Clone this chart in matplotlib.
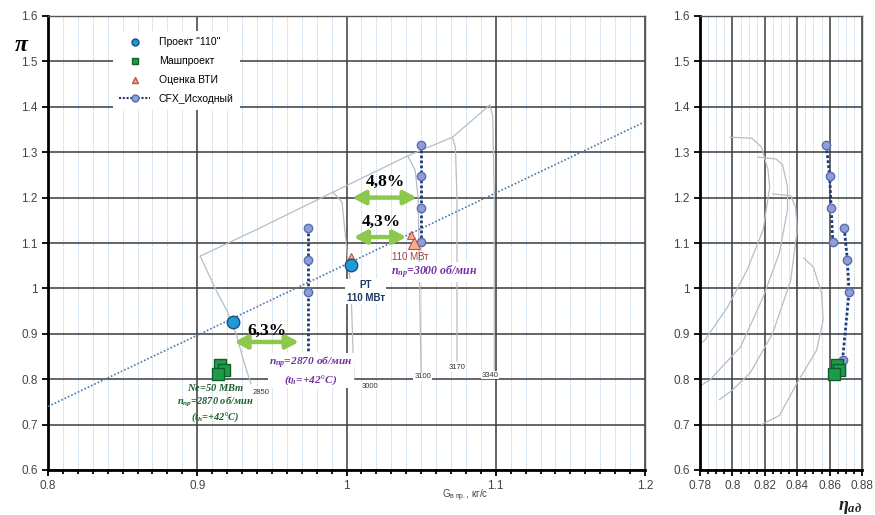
import numpy as np
import matplotlib.pyplot as plt
from matplotlib.lines import Line2D
from matplotlib.patches import FancyArrowPatch
from matplotlib.ticker import MultipleLocator

plt.rcParams['font.family'] = ['Liberation Sans', 'DejaVu Sans']
plt.rcParams['mathtext.fontset'] = 'custom'
plt.rcParams['mathtext.it'] = 'Liberation Serif:italic:bold'
plt.rcParams['mathtext.rm'] = 'Liberation Serif:bold'
plt.rcParams['mathtext.sf'] = 'Liberation Sans'

# ---------------------------------
# data
# ---------------------------------
# Проект "110"
proj_G = [0.924, 1.003]
proj_pi = [0.926, 1.052]

# Машпроект
mash_G = [0.915, 0.918, 0.914]
mash_pi = [0.831, 0.820, 0.811]
mash_eta = [0.8646, 0.866, 0.863]

# Оценка ВТИ
vti_G = [1.045, 1.043, 1.003]
vti_pi = [1.100, 1.118, 1.071]
vti_size = [9, 6, 4]

# CFX_Исходный, two speed lines
cfx1_G = [1.050, 1.050, 1.050, 1.050]
cfx1_pi = [1.315, 1.248, 1.177, 1.102]
cfx1_eta = [0.858, 0.860, 0.861, 0.862]
cfx2_G = [0.974, 0.974, 0.974, 0.974]
cfx2_pi = [1.133, 1.062, 0.991, 0.843]
cfx2_eta = [0.869, 0.871, 0.872, 0.868]

# working line
work_G = [0.8, 1.2]
work_pi = [0.740, 1.367]

# surge line and speed lines of the map
surge_G = [0.902, 0.94, 0.991, 1.041, 1.071, 1.096]
surge_pi = [1.071, 1.13, 1.212, 1.292, 1.333, 1.404]
speed_lines = {
    '2850': ([0.902, 0.912, 0.920, 0.926, 0.932, 0.936], [1.071, 1.0, 0.95, 0.9, 0.83, 0.79]),
    '3000': ([0.991, 0.997, 1.001, 1.003, 1.004, 1.005], [1.212, 1.19, 1.06, 1.0, 0.9, 0.80]),
    '3100': ([1.041, 1.046, 1.048, 1.049, 1.050], [1.292, 1.26, 1.2, 1.0, 0.81]),
    '3170': ([1.071, 1.073, 1.074, 1.074], [1.333, 1.31, 1.2, 0.84]),
    '3340': ([1.096, 1.098, 1.099, 1.099], [1.404, 1.38, 1.2, 0.82]),
}
speed_labels = {'2850': (0.943, 0.770), '3000': (1.016, 0.785), '3100': (1.051, 0.805),
                '3170': (1.074, 0.825), '3340': (1.096, 0.809)}

# efficiency curves
eta_curves = [
    ([0.7985, 0.812, 0.818, 0.822, 0.823, 0.819, 0.809, 0.797, 0.783, 0.78],
     [1.333, 1.331, 1.311, 1.261, 1.223, 1.129, 1.04, 0.959, 0.886, 0.878]),
    ([0.816, 0.827, 0.831, 0.834, 0.834, 0.829, 0.819, 0.805, 0.786, 0.78],
     [1.289, 1.285, 1.272, 1.223, 1.173, 1.078, 0.981, 0.871, 0.798, 0.785]),
    ([0.825, 0.836, 0.839, 0.840, 0.836, 0.825, 0.811, 0.800, 0.792],
     [1.208, 1.204, 1.179, 1.129, 1.018, 0.902, 0.814, 0.776, 0.755]),
    ([0.844, 0.850, 0.855, 0.856, 0.852, 0.840, 0.829, 0.818],
     [1.067, 1.047, 0.99, 0.93, 0.864, 0.792, 0.72, 0.70]),
]

# arrows: (G_from, G_to, pi, label, label_G, label_pi)
arrows = [
    (0.923, 0.970, 0.882, '6,3%', 0.947, 0.907),
    (1.003, 1.042, 1.113, '4,3%', 1.023, 1.147),
    (1.002, 1.049, 1.200, '4,8%', 1.026, 1.234),
]

cfx_face = '#8e9fd6'
cfx_edge = '#5a6cb0'
cfx_line = '#1f3a7a'
proj_face = '#1e9ad6'
proj_edge = '#1f4e79'
mash_face = '#1e9b48'
mash_edge = '#0f5f2a'
vti_face = '#f5b08a'
vti_edge = '#c0504d'
purple = '#7030a0'
green_txt = '#1d5e2e'

fig = plt.figure(figsize=(8.75, 5.15), dpi=100)
ax = fig.add_axes([48 / 875, 45 / 515, 597 / 875, 454 / 515])
ax2 = fig.add_axes([700 / 875, 45 / 515, 162 / 875, 454 / 515])


def style_axes(a, xlim, xmajor, xminor):
    a.set_xlim(*xlim)
    a.set_ylim(0.6, 1.6)
    a.xaxis.set_major_locator(MultipleLocator(xmajor))
    a.xaxis.set_minor_locator(MultipleLocator(xminor))
    a.yaxis.set_major_locator(MultipleLocator(0.1))
    a.grid(True, which='major', color='#3a3a3a', lw=1.1, zorder=1)
    a.grid(True, which='minor', axis='x', color='#b9cbdc', lw=0.7, ls=(0, (1, 1)), zorder=0)
    a.set_axisbelow(True)
    for s in ['left', 'bottom']:
        a.spines[s].set_linewidth(2.0)
        a.spines[s].set_color('black')
    for s in ['top', 'right']:
        a.spines[s].set_linewidth(1.0)
        a.spines[s].set_color('#555555')
    a.tick_params(which='both', direction='out', colors='black', labelcolor='#444444',
                  labelsize=8.5, width=1.3, top=False, right=False)
    a.tick_params(which='major', length=4)
    a.tick_params(which='minor', length=3)
    a.yaxis.set_major_formatter(plt.FuncFormatter(lambda v, p: '{:g}'.format(round(v, 2))))
    a.xaxis.set_major_formatter(plt.FuncFormatter(lambda v, p: '{:g}'.format(round(v, 3))))


style_axes(ax, (0.8, 1.2), 0.1, 0.01)
style_axes(ax2, (0.78, 0.88), 0.02, 0.005)

# -------------------------------------
# left: compressor map
# -------------------------------------
map_color = '#b4bec6'
ax.plot(surge_G, surge_pi, color=map_color, lw=0.9, zorder=2)
for name, (g, p) in speed_lines.items():
    ax.plot(g, p, color=map_color, lw=0.9, zorder=2)
    lx, ly = speed_labels[name]
    ax.text(lx, ly, name, fontsize=5.5, color='#333333', ha='center', va='center', zorder=6,
            bbox=dict(boxstyle='square,pad=0.1', fc='white', ec='none'))

ax.plot(work_G, work_pi, color='#4a78a8', lw=1.2, ls=(0, (1, 1.2)), zorder=3)

ax.plot(cfx1_G, cfx1_pi, color=cfx_line, lw=2.0, ls=(0, (1, 0.8)), marker='o', ms=6,
        mfc=cfx_face, mec=cfx_edge, zorder=4)
ax.plot(cfx2_G, cfx2_pi, color=cfx_line, lw=2.0, ls=(0, (1, 0.8)), marker='o', ms=6,
        mfc=cfx_face, mec=cfx_edge, zorder=4)

ax.plot(mash_G, mash_pi, ls='none', marker='s', ms=9, mfc=mash_face, mec=mash_edge, zorder=5)
for g, p, s in zip(vti_G, vti_pi, vti_size):
    ax.plot(g, p, ls='none', marker='^', ms=s, mfc=vti_face, mec=vti_edge, mew=0.8, zorder=5)
ax.plot(proj_G, proj_pi, ls='none', marker='o', ms=9, mfc=proj_face, mec=proj_edge, zorder=5)

for g0, g1, p, lab, lg, lp in arrows:
    arr = FancyArrowPatch((g0, p), (g1, p), arrowstyle='<|-|>,head_length=0.75,head_width=0.4',
                          mutation_scale=10, lw=3.2, color='#8cc84b', zorder=7)
    ax.add_patch(arr)
    ax.text(lg, lp, lab, fontsize=12.5, fontweight='bold', family='Liberation Serif',
            ha='center', va='center', zorder=7)

ax.text(1.013, 0.993, 'PT\n110 МВт', fontsize=7, fontweight='bold', color='#1f3864',
        ha='center', va='center', linespacing=1.3, zorder=6,
        bbox=dict(boxstyle='square,pad=0.15', fc='white', ec='none'))
ax.text(1.043, 1.069, '110 МВт', fontsize=7, color='#a0403a', ha='center', va='center', zorder=6)
ax.text(1.059, 1.036, r'$n_{пр}$=3000 об/мин', fontsize=8.5, color=purple,
        family='Liberation Serif', style='italic', fontweight='bold', ha='center', va='center',
        zorder=6, bbox=dict(boxstyle='square,pad=0.15', fc='white', ec='none'))
ax.text(0.976, 0.818, '$n_{пр}$=2870 об/мин\n($t_{h}$=+42°C)', fontsize=8.2, color=purple,
        family='Liberation Serif', style='italic', fontweight='bold', ha='center', va='center',
        linespacing=1.2, zorder=6, bbox=dict(boxstyle='square,pad=0.1', fc='white', ec='none'))
ax.text(0.912, 0.748, '$Ne$=50 МВт\n$n_{пр}$=2870 об/мин\n($t_{h}$=+42°C)', fontsize=7.5,
        color=green_txt, family='Liberation Serif', style='italic', fontweight='bold',
        ha='center', va='center', linespacing=1.15, zorder=6)

handles = [
    Line2D([], [], ls='none', marker='o', ms=5, mfc=proj_face, mec=proj_edge),
    Line2D([], [], ls='none', marker='s', ms=5, mfc=mash_face, mec=mash_edge),
    Line2D([], [], ls='none', marker='^', ms=5, mfc=vti_face, mec=vti_edge),
    Line2D([], [], color=cfx_line, lw=1.5, ls=(0, (1, 0.8)), marker='o', ms=5,
           mfc=cfx_face, mec=cfx_edge),
]
labels = ['Проект "110"', 'Машпроект', 'Оценка ВТИ', 'CFX_Исходный']
leg = ax.legend(handles, labels, loc='upper left', bbox_to_anchor=(0.1, 0.978), fontsize=7.5,
                frameon=True, fancybox=False, framealpha=1, edgecolor='none',
                handlelength=3.0, borderpad=0.6, labelspacing=0.85)
leg.set_zorder(8)

# -------------------------------------
# right: efficiency
# -------------------------------------
for g, p in eta_curves:
    ax2.plot(g, p, color=map_color, lw=0.9, zorder=2)
ax2.plot(cfx1_eta, cfx1_pi, color=cfx_line, lw=2.0, ls=(0, (1, 0.8)), marker='o', ms=6,
         mfc=cfx_face, mec=cfx_edge, zorder=4)
ax2.plot(cfx2_eta, cfx2_pi, color=cfx_line, lw=2.0, ls=(0, (1, 0.8)), marker='o', ms=6,
         mfc=cfx_face, mec=cfx_edge, zorder=4)
ax2.plot(mash_eta, mash_pi, ls='none', marker='s', ms=8, mfc=mash_face, mec=mash_edge, zorder=5)

# axis titles
fig.text(22 / 875, 1 - 45 / 515, r'$\pi$', fontsize=17, ha='center', va='center')
fig.text(465 / 875, 1 - 496 / 515, r'G$_{\mathsf{в\ пр.}}$, кг/с', fontsize=7, color='#444444',
         ha='center', va='center')
fig.text(850 / 875, 1 - 507 / 515, r'$\eta_{ад}$', fontsize=13, color='#222222',
         ha='center', va='center')

fig.savefig('out.png', dpi=100)
